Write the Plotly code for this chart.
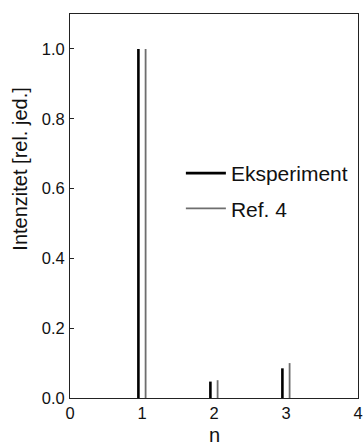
import plotly.graph_objects as go

n_values = [1, 2, 3]
eksperiment = [1.0, 0.047, 0.085]
ref4 = [1.0, 0.051, 0.100]
x_ticks = [0, 1, 2, 3, 4]
y_ticks = [0.0, 0.2, 0.4, 0.6, 0.8, 1.0]
y_tick_labels = ["0.0", "0.2", "0.4", "0.6", "0.8", "1.0"]
offset = 0.05


def sticks(xs, ys, dx):
    X, Y = [], []
    for x, y in zip(xs, ys):
        X += [x + dx, x + dx, None]
        Y += [0, y, None]
    return X, Y


fig = go.Figure()
xe, ye = sticks(n_values, eksperiment, -offset)
xr, yr = sticks(n_values, ref4, offset)
fig.add_trace(go.Scatter(x=xe, y=ye, mode="lines", name="Eksperiment",
                         legendgroup="a",
                         line=dict(color="#000000", width=2.6)))
fig.add_trace(go.Scatter(x=xr, y=yr, mode="lines", name="Ref. 4",
                         legendgroup="b",
                         line=dict(color="#6e6e6e", width=1.8)))

font = "Liberation Sans, Arial, sans-serif"
fig.update_layout(
    width=364, height=445,
    margin=dict(l=70, r=6, t=14, b=47),
    plot_bgcolor="white", paper_bgcolor="white",
    font=dict(family=font, size=16, color="#111111"),
    showlegend=True,
    legend=dict(x=0.385, y=0.638, xanchor="left", yanchor="top",
                bgcolor="rgba(0,0,0,0)", font=dict(size=21),
                tracegroupgap=5, traceorder="grouped", itemwidth=40),
    xaxis=dict(range=[0, 4], tickvals=x_ticks, showline=True, mirror=True,
               linecolor="#222222", linewidth=1, showgrid=False, zeroline=False,
               ticks="", tickfont=dict(size=16.5), automargin=False),
    yaxis=dict(range=[0, 1.1], tickvals=y_ticks, ticktext=y_tick_labels,
               showline=True, mirror=True, linecolor="#222222", linewidth=1,
               showgrid=False, zeroline=False, ticks="inside", ticklen=4,
               tickcolor="#222222", tickfont=dict(size=16.5),
               ticklabelstandoff=1, automargin=False),
    annotations=[
        dict(text="Intenzitet [rel. jed.]", textangle=-90,
             xref="paper", yref="paper", x=-0.174, y=0.597,
             xanchor="center", yanchor="middle", showarrow=False,
             font=dict(size=20)),
        dict(text="n", xref="paper", yref="paper", x=0.5, y=-0.097,
             xanchor="center", yanchor="middle", showarrow=False,
             font=dict(size=20)),
    ],
)

fig.write_html("out.html", config={"displayModeBar": False},
               post_script="document.body.style.margin='0';")
